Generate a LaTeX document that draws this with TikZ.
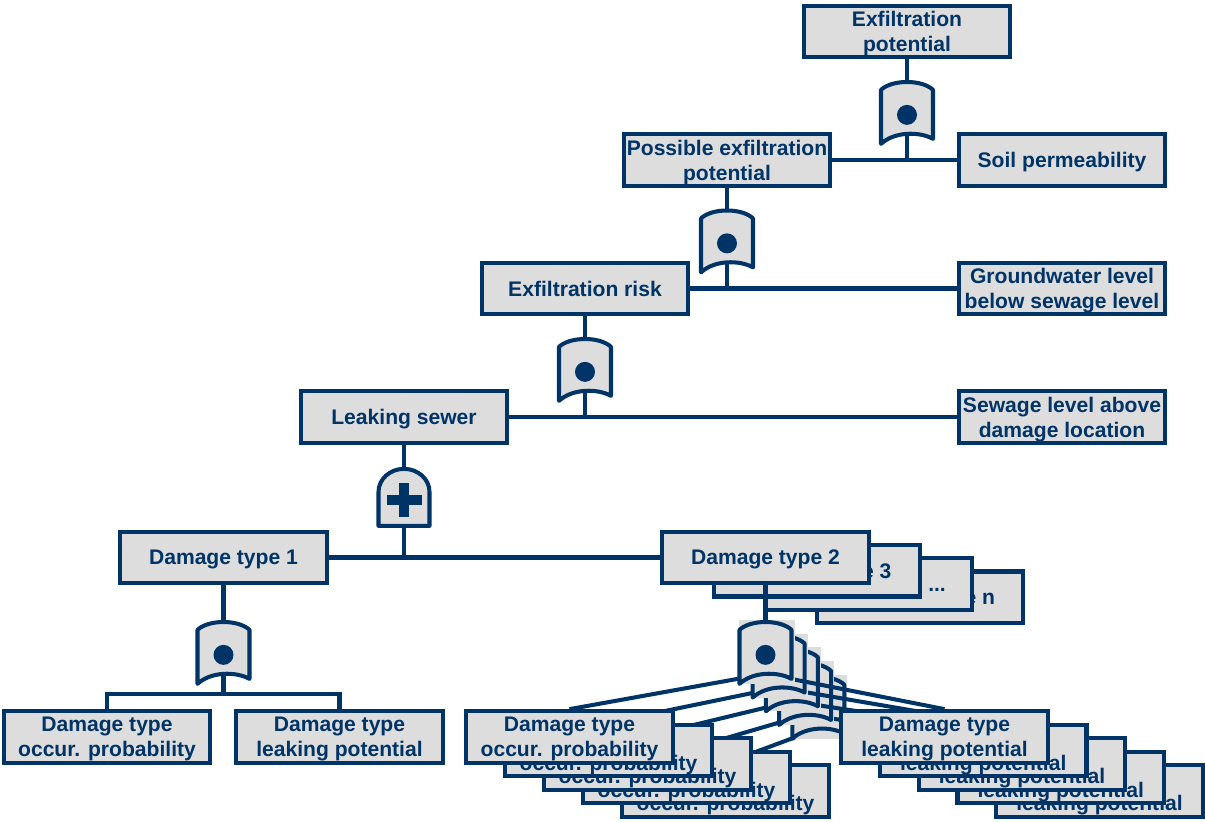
\documentclass[tikz,border=0pt]{standalone}
\usepackage{fontspec}
\setmainfont{Liberation Sans}
\usetikzlibrary{positioning, calc}
\definecolor{navy}{RGB}{0,51,102}
\definecolor{boxgray}{RGB}{221,221,221}

\begin{document}
\begin{tikzpicture}[
    node distance=2.57cm,
    on grid,
    every node/.style={text=navy, font=\fontsize{12}{14.2}\selectfont\bfseries},
    box/.style={draw=navy, fill=boxgray, line width=2.4pt, minimum width=4.13cm, minimum height=1.03cm, inner sep=1pt, text depth=0pt, align=center},
    link/.style={draw=navy, line width=2.3pt},
    gateline/.style={draw=navy, fill=boxgray, line width=2.3pt, line join=round},
    andgate/.pic={
        \path[gateline] (-0.52,-0.16) .. controls (-0.3,0.05) and (0.3,0.05) .. (0.52,-0.16)
            -- (0.52,-1.14) .. controls (0.25,-0.99) and (-0.25,-0.99) .. (-0.52,-1.24) -- cycle;
        \fill[navy] (0,-0.66) circle (0.2);
        \coordinate (-top) at (0,0);
        \coordinate (-bot) at (0,-1.04);
    },
    orgate/.pic={
        \path[gateline] (-0.51,-1.14) -- (-0.51,-0.46)
            arc[start angle=180, end angle=0, x radius=0.51, y radius=0.46] -- (0.51,-1.14) -- cycle;
        \draw[navy, line width=0.21cm] (-0.35,-0.62) -- (0.35,-0.62) (0,-0.28) -- (0,-0.96);
        \coordinate (-top) at (0,0);
        \coordinate (-bot) at (0,-1.14);
    }
]
   \useasboundingbox (0,0) rectangle (24.1,-16.42);

   % Events
   \node[box] (expot) at (18.14,-0.63) {Exfiltration\\potential};
   \node[box, below left=2.57cm and 3.6cm of expot] (possexf) {Possible exfiltration\\potential};
   \node[box, right=6.7cm of possexf] (soil) {Soil permeability};
   \node[box, below=of soil] (ground) {Groundwater level\\below sewage level};
   \node[box, below=of ground] (sewlvl) {Sewage level above\\damage location};
   \node[box, below left=2.57cm and 2.84cm of possexf] (exrisk) {Exfiltration risk};
   \node[box, below left=2.57cm and 3.62cm of exrisk] (leak) {Leaking sewer};
   \node[box, below left=2.81cm and 3.61cm of leak] (dt1) {Damage type 1};
   \coordinate[right=10.84cm of dt1] (dt2pos);
   \node[box] (dtn) at ([shift={(3.09,-0.795)}]dt2pos) {Damage type n};
   \node[box] (dtdots) at ([shift={(2.06,-0.53)}]dt2pos) {Damage type ...};
   \node[box] (dt3) at ([shift={(1.03,-0.265)}]dt2pos) {Damage type 3};
   \node[box] (dt2) at (dt2pos) {Damage type 2};
   \node[box, below left=3.59cm and 2.33cm of dt1] (bl1) {Damage type\\occur. probability};
   \node[box, right=4.65cm of bl1] (br1) {Damage type\\leaking potential};

   % Gates
   \pic (g1) at ([yshift=-0.45cm]expot.south) {andgate};
   \pic (g2) at ([yshift=-0.45cm]possexf.south) {andgate};
   \pic (g3) at ([yshift=-0.45cm]exrisk.south) {andgate};
   \pic (gor) at ([yshift=-0.48cm]leak.south) {orgate};
   \pic (g5) at ([yshift=-0.73cm]dt1.south) {andgate};

   % Connections
   \draw[link] (expot.south) -- (g1-top);
   \draw[link] (g1-bot) -- (g1-bot |- soil.west);
   \draw[link] (possexf.east) -- (soil.west);
   \draw[link] (possexf.south) -- (g2-top);
   \draw[link] (g2-bot) -- (g2-bot |- ground.west);
   \draw[link] (exrisk.east) -- (ground.west);
   \draw[link] (exrisk.south) -- (g3-top);
   \draw[link] (g3-bot) -- (g3-bot |- sewlvl.west);
   \draw[link] (leak.east) -- (sewlvl.west);
   \draw[link] (leak.south) -- (gor-top);
   \draw[link] (gor-bot) -- (gor-bot |- dt1.east);
   \draw[link] (dt1.east) -- (dt2.west);
   \draw[link] (dt1.south) -- (g5-top);
   \draw[link] (bl1.north) -- ++(0,0.31) coordinate (brk) -| (br1.north);
   \draw[link] (g5-bot) -- (g5-bot |- brk);

   % Stacked gates for damage types 2 ... n
   \coordinate[below=0.73cm of dt2.south] (gtop);
   \coordinate[below left=3.59cm and 3.92cm of dt2] (lpos);
   \coordinate[right=7.5cm of lpos] (rpos);
   \draw[link] (dt2.south) -- (gtop);
   \foreach \i in {4,3,2,1,0} {
      \node[box] (L\i) at ([shift={(0.78*\i,-0.27*\i)}]lpos) {Damage type\\occur. probability};
      \node[box] (R\i) at ([shift={(0.775*\i,-0.27*\i)}]rpos) {Damage type\\leaking potential};
      \coordinate (P\i) at ([shift={(0.264*\i,-1.04-0.274*\i)}]gtop);
      \draw[link] (L\i.north) -- (P\i) -- (R\i.north);
      \fill[boxgray] ([shift={(0.264*\i-0.54,0.04-0.274*\i)}]gtop) rectangle ++(1.12,-1.28);
      \pic (G\i) at ([shift={(0.264*\i,-0.274*\i)}]gtop) {andgate};
   }
\end{tikzpicture}
\end{document}
